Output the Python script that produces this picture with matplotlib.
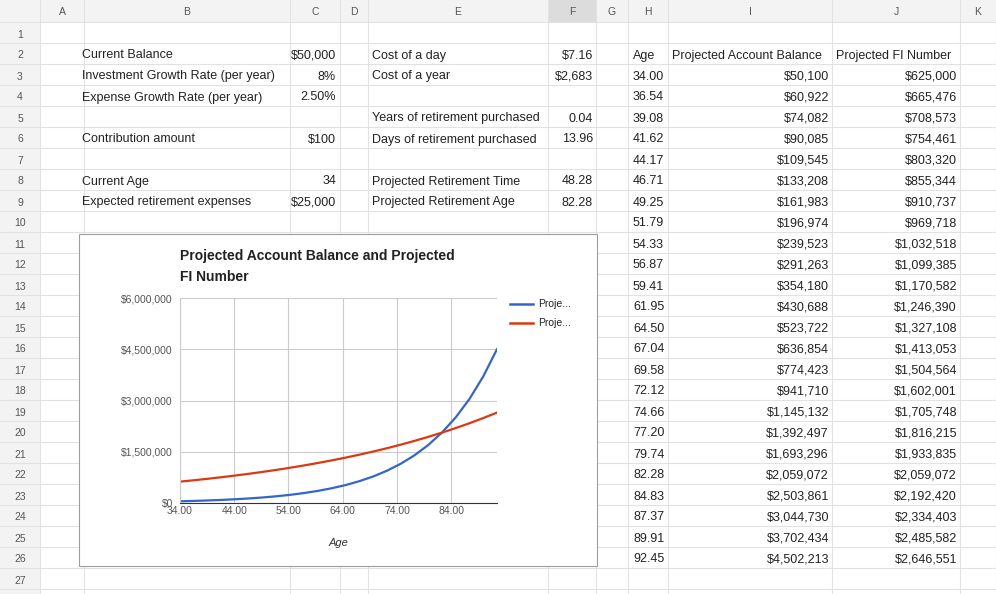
import matplotlib
matplotlib.use("Agg")
import matplotlib.pyplot as plt
from matplotlib.patches import Rectangle
from matplotlib.lines import Line2D

plt.rcParams["font.family"] = ["Liberation Sans", "DejaVu Sans"]

# --- data -----------------------------------------------------------------
left_labels = ["Current Balance", "Investment Growth Rate (per year)", "Expense Growth Rate (per year)",
               "", "Contribution amount", "", "Current Age", "Expected retirement expenses"]
left_values = ["$50,000", "8%", "2.50%", "", "$100", "", "34", "$25,000"]
mid_labels = ["Cost of a day", "Cost of a year", "", "Years of retirement purchased",
              "Days of retirement purchased", "", "Projected Retirement Time", "Projected Retirement Age"]
mid_values = ["$7.16", "$2,683", "", "0.04", "13.96", "", "48.28", "82.28"]

ages = [34.00, 36.54, 39.08, 41.62, 44.17, 46.71, 49.25, 51.79, 54.33, 56.87, 59.41, 61.95,
        64.50, 67.04, 69.58, 72.12, 74.66, 77.20, 79.74, 82.28, 84.83, 87.37, 89.91, 92.45]
balance = [50100, 60922, 74082, 90085, 109545, 133208, 161983, 196974, 239523, 291263, 354180,
           430688, 523722, 636854, 774423, 941710, 1145132, 1392497, 1693296, 2059072, 2503861,
           3044730, 3702434, 4502213]
fi_number = [625000, 665476, 708573, 754461, 803320, 855344, 910737, 969718, 1032518, 1099385,
             1170582, 1246390, 1327108, 1413053, 1504564, 1602001, 1705748, 1816215, 1933835,
             2059072, 2192420, 2334403, 2485582, 2646551]

col_names = ["A", "B", "C", "D", "E", "F", "G", "H", "I", "J", "K"]
col_edges = [40, 84, 290, 340, 368, 548, 596, 628, 668, 832, 960, 996]

W, H = 996, 594
fig = plt.figure(figsize=(W / 100, H / 100), dpi=100)
sheet = fig.add_axes([0, 0, 1, 1])
sheet.set_xlim(0, W)
sheet.set_ylim(H, 0)
sheet.axis("off")

grid_c = "#e2e2e2"
row_h = 21
top = 22
fs = 9
txt = "#222222"


def row_y(n):
    # small downward nudge so text sits where the sheet draws it
    return top + (n - 1) * row_h + row_h / 2 + 2


# header
sheet.add_patch(Rectangle((0, 0), W, top, color="#f3f3f3", lw=0))
sheet.add_patch(Rectangle((0, 0), 40, H, color="#f3f3f3", lw=0))
sheet.add_patch(Rectangle((col_edges[5], 0), col_edges[6] - col_edges[5], top, color="#dcdcdc", lw=0))
for i, name in enumerate(col_names):
    cx = (col_edges[i] + col_edges[i + 1]) / 2
    sheet.text(cx, top / 2 + 1, name, ha="center", va="center", fontsize=7.5, color="#555555")
for x in col_edges:
    sheet.plot([x, x], [0, H], color=grid_c, lw=0.8)
for n in range(1, 29):
    y = top + (n - 1) * row_h
    sheet.plot([0, W], [y, y], color=grid_c, lw=0.8)
    if n <= 27:
        sheet.text(20, row_y(n), str(n), ha="center", va="center", fontsize=7.5, color="#555555")

# left tables
for i in range(8):
    y = row_y(i + 2)
    sheet.text(82, y, left_labels[i], ha="left", va="center", fontsize=fs, color=txt)
    sheet.text(336, y, left_values[i], ha="right", va="center", fontsize=fs, color=txt)
    sheet.text(372, y, mid_labels[i], ha="left", va="center", fontsize=fs, color=txt)
    sheet.text(593, y, mid_values[i], ha="right", va="center", fontsize=fs, color=txt)

# right table
y = row_y(2)
sheet.text(633, y, "Age", ha="left", va="center", fontsize=fs, color=txt)
sheet.text(672, y, "Projected Account Balance", ha="left", va="center", fontsize=fs, color=txt)
sheet.text(836, y, "Projected FI Number", ha="left", va="center", fontsize=fs, color=txt)
for k, (a, b, f) in enumerate(zip(ages, balance, fi_number)):
    y = row_y(k + 3)
    sheet.text(633, y, f"{a:.2f}", ha="left", va="center", fontsize=fs, color=txt)
    sheet.text(829, y, f"${b:,}", ha="right", va="center", fontsize=fs, color=txt)
    sheet.text(957, y, f"${f:,}", ha="right", va="center", fontsize=fs, color=txt)

# chart box
sheet.add_patch(Rectangle((79, 234), 518, 332, facecolor="white", edgecolor="#9e9e9e", lw=0.8, zorder=5))
sheet.text(180, 256, "Projected Account Balance and Projected", fontsize=10, fontweight="bold",
           va="center", color=txt, zorder=6)
sheet.text(180, 277, "FI Number", fontsize=10, fontweight="bold", va="center", color=txt, zorder=6)
blue, red = "#3366cc", "#dc3912"
sheet.add_line(Line2D([510, 533], [304, 304], color=blue, lw=1.8, zorder=6))
sheet.add_line(Line2D([510, 533], [323, 323], color=red, lw=1.8, zorder=6))
sheet.text(538, 304, "Proje...", fontsize=7.5, va="center", color=txt, zorder=6)
sheet.text(538, 323, "Proje...", fontsize=7.5, va="center", color=txt, zorder=6)

ax = fig.add_axes([180 / W, (H - 503) / H, 317 / W, 205 / H], zorder=10)
ax.set_facecolor("none")
ax.plot(ages, balance, color=blue, lw=1.6)
ax.plot(ages, fi_number, color=red, lw=1.6)
ax.set_xlim(34, 92.45)
ax.set_ylim(0, 6000000)
ax.set_xticks([34, 44, 54, 64, 74, 84])
ax.set_xticklabels(["34.00", "44.00", "54.00", "64.00", "74.00", "84.00"])
ax.set_yticks([0, 1500000, 3000000, 4500000, 6000000])
ax.set_yticklabels(["$0", "$1,500,000", "$3,000,000", "$4,500,000", "$6,000,000"])
ax.grid(color="#cccccc", lw=0.8)
for s in ["top", "right"]:
    ax.spines[s].set_visible(False)
ax.spines["left"].set_color("#cccccc")
ax.spines["bottom"].set_color("#333333")
ax.tick_params(length=0, labelsize=7.5, colors="#555555", pad=5)
ax.tick_params(axis="x", pad=2)
ax.set_xlabel("Age", fontsize=8, style="italic", color="#333333", labelpad=16)

fig.savefig("out.png", dpi=100)
